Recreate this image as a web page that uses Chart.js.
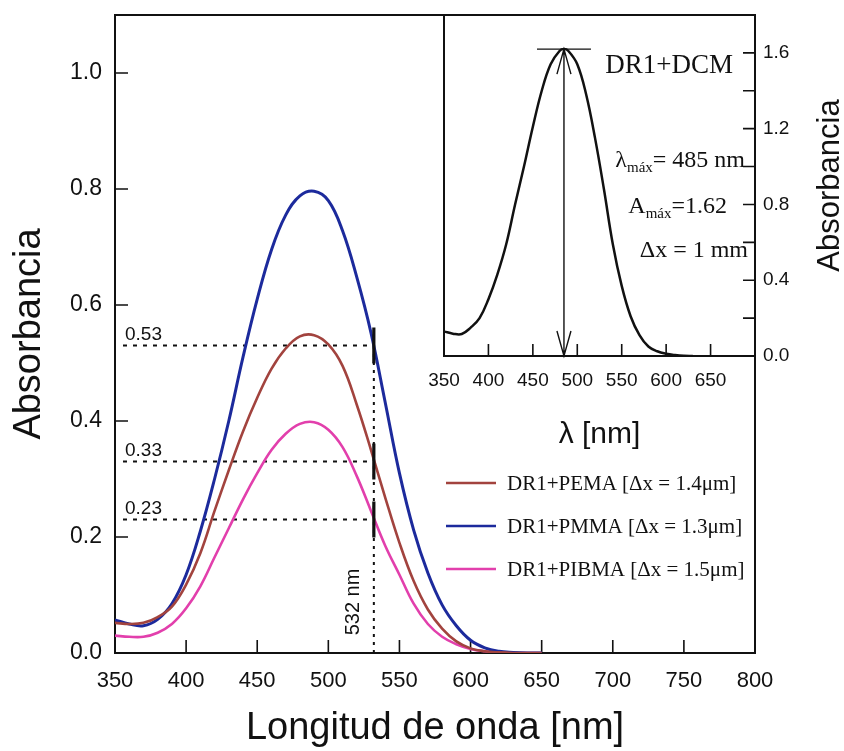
<!DOCTYPE html>
<html lang="es">
<head>
<meta charset="utf-8">
<title>Absorbancia DR1</title>
<script src="https://cdn.jsdelivr.net/npm/chart.js@4.4.1/dist/chart.umd.min.js"></script>
<style>
  html, body { margin: 0; padding: 0; background: #fff; }
  #wrap { position: relative; width: 844px; height: 751px; }
  #mainChart { position: absolute; left: 0; top: 0; }
  #insetChart { position: absolute; left: 420px; top: 0; }
</style>
</head>
<body>
<div id="wrap">
  <canvas id="mainChart" width="844" height="751"></canvas>
  <canvas id="insetChart" width="424" height="460"></canvas>
</div>
<script>
const SANS = '"Liberation Sans", Arial, Helvetica, sans-serif';
const SERIF = '"Liberation Serif", "Times New Roman", serif';

// --- films: absorbance vs wavelength ---
const wavelengths = [350, 360, 370, 380, 390, 400, 410, 420, 430, 440, 450, 460, 470, 480, 490,
                     500, 510, 520, 530, 540, 550, 560, 570, 580, 590, 600, 610, 620, 630, 640, 650];
const pema  = [0.052, 0.050, 0.052, 0.062, 0.080, 0.118, 0.172, 0.245, 0.315, 0.382, 0.440, 0.490, 0.525, 0.546, 0.548,
               0.532, 0.495, 0.428, 0.350, 0.268, 0.190, 0.124, 0.075, 0.042, 0.020, 0.008, 0.003, 0.001, 0.000, 0.000, 0.000];
const pmma  = [0.057, 0.050, 0.047, 0.058, 0.085, 0.135, 0.210, 0.300, 0.400, 0.510, 0.610, 0.695, 0.755, 0.788, 0.796,
               0.780, 0.728, 0.648, 0.552, 0.432, 0.310, 0.212, 0.138, 0.083, 0.047, 0.022, 0.009, 0.003, 0.001, 0.000, 0.000];
const pibma = [0.030, 0.028, 0.028, 0.035, 0.050, 0.077, 0.115, 0.165, 0.215, 0.265, 0.310, 0.350, 0.378, 0.395, 0.398,
               0.385, 0.355, 0.305, 0.245, 0.185, 0.135, 0.085, 0.050, 0.028, 0.015, 0.007, 0.003, 0.001, 0.000, 0.000, 0.000];
const seriesLabels = ['DR1+PEMA [\u0394x = 1.4\u03bcm]', 'DR1+PMMA [\u0394x = 1.3\u03bcm]', 'DR1+PIBMA [\u0394x = 1.5\u03bcm]'];
const seriesColors = ['#a2433e', '#1c2a9c', '#e23fac'];

const laserNm = 532;
const laserReadings = [0.53, 0.33, 0.23];

const mainXTicks = [350, 400, 450, 500, 550, 600, 650, 700, 750, 800];
const mainYTicks = [0, 0.2, 0.4, 0.6, 0.8, 1.0];

// --- DR1 in DCM solution (inset) ---
const dcmWavelengths = [350, 360, 370, 380, 390, 400, 410, 420, 430, 440, 450, 460, 470, 480, 485, 490,
                        500, 510, 520, 530, 540, 550, 560, 570, 580, 590, 600, 610, 620, 630];
const dcm = [0.130, 0.118, 0.116, 0.150, 0.200, 0.300, 0.430, 0.590, 0.800, 1.000, 1.210, 1.400, 1.540, 1.610, 1.620, 1.610,
             1.540, 1.380, 1.150, 0.880, 0.590, 0.370, 0.210, 0.110, 0.050, 0.025, 0.012, 0.005, 0.001, 0.000];
const lambdaMax = 485;
const aMax = 1.62;

const insetXTicks = [350, 400, 450, 500, 550, 600, 650];
const insetYTicks = [0, 0.4, 0.8, 1.2, 1.6];
const insetYMinor = [0.2, 0.6, 1.0, 1.4];

const toPoints = (xs, ys) => xs.map((x, i) => ({ x, y: ys[i] }));

// fixed scale size, no extra room for overhanging labels
const fixSize = (w, h) => s => {
  if (w) s.width = w;
  if (h) s.height = h;
  s.paddingTop = s.paddingBottom = s.paddingLeft = s.paddingRight = 0;
};

// box around the plot plus inward tick marks
function framePlugin(o) {
  return {
    id: 'frame',
    beforeDatasetsDraw(chart) {
      const { ctx, chartArea: a, scales: { x, y } } = chart;
      ctx.save();
      ctx.strokeStyle = '#111';
      ctx.lineWidth = 2;
      ctx.strokeRect(a.left, a.top, a.right - a.left, a.bottom - a.top);
      ctx.lineWidth = 1.6;
      ctx.beginPath();
      o.xTicks.forEach(v => {
        const px = x.getPixelForValue(v);
        ctx.moveTo(px, a.bottom);
        ctx.lineTo(px, a.bottom - o.len);
      });
      o.yTicks.forEach(v => {
        const py = y.getPixelForValue(v);
        const edge = o.ySide === 'left' ? a.left : a.right;
        const dir = o.ySide === 'left' ? 1 : -1;
        ctx.moveTo(edge, py);
        ctx.lineTo(edge + dir * o.len, py);
      });
      ctx.stroke();
      ctx.restore();
    }
  };
}

// dotted read-out lines at the laser wavelength
const laserPlugin = {
  id: 'laser',
  beforeDatasetsDraw(chart) {
    const { ctx, chartArea: a, scales: { x, y } } = chart;
    const lx = x.getPixelForValue(laserNm);
    const top = Math.min(...laserReadings.map(v => y.getPixelForValue(v))) - 18;
    ctx.save();
    ctx.strokeStyle = '#111';
    ctx.lineWidth = 2;
    ctx.setLineDash([4, 6]);
    ctx.beginPath();
    laserReadings.forEach(v => {
      const py = y.getPixelForValue(v);
      ctx.moveTo(a.left + 8, py);
      ctx.lineTo(lx, py);
    });
    ctx.stroke();
    ctx.setLineDash([3, 5]);
    ctx.beginPath();
    ctx.moveTo(lx, a.bottom);
    ctx.lineTo(lx, top);
    ctx.stroke();
    ctx.setLineDash([]);

    ctx.fillStyle = '#111';
    ctx.font = '19px ' + SANS;
    ctx.textAlign = 'left';
    ctx.textBaseline = 'alphabetic';
    laserReadings.forEach(v => {
      ctx.fillText(v.toFixed(2), a.left + 10, y.getPixelForValue(v) - 6);
    });

    ctx.translate(lx - 20, a.bottom - 51);
    ctx.rotate(-Math.PI / 2);
    ctx.textAlign = 'center';
    ctx.textBaseline = 'middle';
    ctx.font = '20px ' + SANS;
    ctx.fillText(laserNm + ' nm', 0, 0);
    ctx.restore();
  },
  afterDatasetsDraw(chart) {
    const { ctx, scales: { x, y } } = chart;
    const lx = x.getPixelForValue(laserNm);
    ctx.save();
    ctx.strokeStyle = '#111';
    ctx.lineWidth = 3.2;
    ctx.beginPath();
    laserReadings.forEach(v => {
      const py = y.getPixelForValue(v);
      ctx.moveTo(lx, py - 18);
      ctx.lineTo(lx, py + 18);
    });
    ctx.stroke();
    ctx.restore();
  }
};

// legend inside the plot, lower right
const legendPlugin = {
  id: 'boxLegend',
  afterDraw(chart) {
    const { ctx, chartArea: a } = chart;
    ctx.save();
    ctx.font = '21px ' + SERIF;
    ctx.textAlign = 'left';
    ctx.textBaseline = 'middle';
    chart.data.datasets.forEach((ds, i) => {
      const yy = 483 + i * 43;
      ctx.strokeStyle = ds.borderColor;
      ctx.lineWidth = 2.5;
      ctx.beginPath();
      ctx.moveTo(a.left + 331, yy);
      ctx.lineTo(a.left + 381, yy);
      ctx.stroke();
      ctx.fillStyle = '#111';
      ctx.fillText(ds.label, a.left + 392, yy + 1);
    });
    ctx.restore();
  }
};

new Chart(document.getElementById('mainChart'), {
  type: 'scatter',
  data: {
    datasets: [
      { label: seriesLabels[0], data: toPoints(wavelengths, pema), borderColor: seriesColors[0], borderWidth: 2.6 },
      { label: seriesLabels[1], data: toPoints(wavelengths, pmma), borderColor: seriesColors[1], borderWidth: 3 },
      { label: seriesLabels[2], data: toPoints(wavelengths, pibma), borderColor: seriesColors[2], borderWidth: 2.6 }
    ].map(d => Object.assign(d, { showLine: true, pointRadius: 0, tension: 0.4, fill: false }))
  },
  options: {
    responsive: false,
    animation: false,
    layout: { padding: { left: 0, top: 15, right: 89, bottom: 0 } },
    plugins: { legend: { display: false }, tooltip: { enabled: false } },
    scales: {
      x: {
        type: 'linear', min: 350, max: 800,
        afterBuildTicks: s => { s.ticks = mainXTicks.map(v => ({ value: v })); },
        afterFit: fixSize(0, 98),
        grid: { display: false, drawTicks: false },
        border: { display: false },
        ticks: { autoSkip: false, maxRotation: 0, padding: 15, color: '#111', font: { family: SANS, size: 22 } },
        title: { display: true, text: 'Longitud de onda [nm]', color: '#111', font: { family: SANS, size: 38 }, padding: { bottom: 0 } }
      },
      y: {
        type: 'linear', min: 0, max: 1.1,
        afterBuildTicks: s => { s.ticks = mainYTicks.map(v => ({ value: v })); },
        afterFit: fixSize(115, 0),
        grid: { display: false, drawTicks: false },
        border: { display: false },
        ticks: { padding: 13, color: '#111', font: { family: SANS, size: 23 }, callback: v => v.toFixed(1) },
        title: { display: true, text: 'Absorbancia', color: '#111', font: { family: SANS, size: 38 }, padding: { top: 7 } }
      }
    }
  },
  plugins: [framePlugin({ xTicks: mainXTicks, yTicks: mainYTicks, len: 13, ySide: 'left' }), laserPlugin, legendPlugin]
});

// draws a run of [text, fontSize, baselineShift] pieces, right-aligned at x
function drawRuns(ctx, runs, xRight, baseY) {
  let w = 0;
  runs.forEach(r => { ctx.font = r[1] + 'px ' + SERIF; w += ctx.measureText(r[0]).width; });
  let cx = xRight - w;
  runs.forEach(r => {
    ctx.font = r[1] + 'px ' + SERIF;
    ctx.fillText(r[0], cx, baseY + (r[2] || 0));
    cx += ctx.measureText(r[0]).width;
  });
}

// peak marker, double arrow and notes for the solution spectrum
const peakPlugin = {
  id: 'peak',
  afterDatasetsDraw(chart) {
    const { ctx, chartArea: a, scales: { x, y } } = chart;
    const px = x.getPixelForValue(lambdaMax);
    const top = y.getPixelForValue(aMax);
    const bot = y.getPixelForValue(0);
    ctx.save();
    ctx.strokeStyle = '#111';
    ctx.lineWidth = 1.4;
    ctx.beginPath();
    ctx.moveTo(px - 27, top); ctx.lineTo(px + 27, top);
    ctx.moveTo(px, top); ctx.lineTo(px, bot);
    ctx.moveTo(px - 7, top + 25); ctx.lineTo(px, top); ctx.lineTo(px + 7, top + 25);
    ctx.moveTo(px - 7, bot - 25); ctx.lineTo(px, bot); ctx.lineTo(px + 7, bot - 25);
    ctx.stroke();

    ctx.fillStyle = '#111';
    ctx.textAlign = 'left';
    ctx.textBaseline = 'alphabetic';
    drawRuns(ctx, [['DR1+DCM', 27]], a.right - 22, 73);
    drawRuns(ctx, [['\u03bb', 24], ['m\u00e1x', 15, 5], ['= ' + lambdaMax + ' nm', 24]], a.right - 10, 167);
    drawRuns(ctx, [['A', 24], ['m\u00e1x', 15, 5], ['=' + aMax.toFixed(2), 24]], a.right - 28, 213);
    drawRuns(ctx, [['\u0394x = 1 mm', 24]], a.right - 7, 257);

    // right-hand axis title, reading upwards
    ctx.font = '31px ' + SANS;
    ctx.textAlign = 'center';
    ctx.textBaseline = 'middle';
    ctx.translate(a.right + 75, (a.top + a.bottom) / 2);
    ctx.rotate(-Math.PI / 2);
    ctx.fillText('Absorbancia', 0, 0);
    ctx.restore();
  }
};

new Chart(document.getElementById('insetChart'), {
  type: 'scatter',
  data: {
    datasets: [{
      label: 'DR1+DCM', data: toPoints(dcmWavelengths, dcm), borderColor: '#111', borderWidth: 2.5,
      showLine: true, pointRadius: 0, tension: 0.4, fill: false
    }]
  },
  options: {
    responsive: false,
    animation: false,
    layout: { padding: { left: 24, top: 15, right: 0, bottom: 0 } },
    plugins: { legend: { display: false }, tooltip: { enabled: false } },
    scales: {
      x: {
        type: 'linear', min: 350, max: 700,
        afterBuildTicks: s => { s.ticks = insetXTicks.map(v => ({ value: v })); },
        afterFit: fixSize(0, 104),
        grid: { display: false, drawTicks: false },
        border: { display: false },
        ticks: { autoSkip: false, maxRotation: 0, padding: 13, color: '#111', font: { family: SANS, size: 19 } },
        title: { display: true, text: '\u03bb [nm]', color: '#111', font: { family: SANS, size: 30 }, padding: { bottom: 7 } }
      },
      y: {
        type: 'linear', position: 'right', min: 0, max: 1.8,
        afterBuildTicks: s => { s.ticks = insetYTicks.map(v => ({ value: v })); },
        afterFit: fixSize(89, 0),
        grid: { display: false, drawTicks: false },
        border: { display: false },
        ticks: { padding: 8, color: '#111', font: { family: SANS, size: 19 }, callback: v => v.toFixed(1) }
      }
    }
  },
  plugins: [framePlugin({ xTicks: insetXTicks, yTicks: insetYTicks.concat(insetYMinor), len: 12, ySide: 'right' }), peakPlugin]
});
</script>
</body>
</html>
